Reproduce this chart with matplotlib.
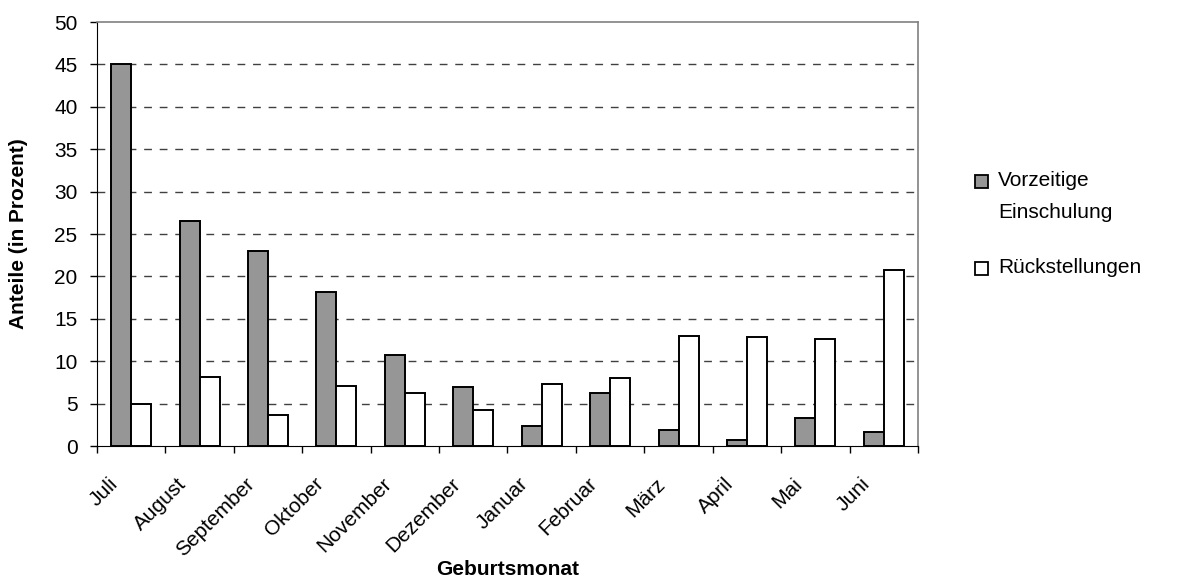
import matplotlib
matplotlib.use("Agg")
import matplotlib.pyplot as plt
import matplotlib.transforms as mtransforms
from matplotlib.patches import Rectangle
import numpy as np

# Data
months = ["Juli", "August", "September", "Oktober", "November", "Dezember",
          "Januar", "Februar", "März", "April", "Mai", "Juni"]
vorzeitig = [45.0, 26.5, 23.0, 18.2, 10.7, 6.9, 2.4, 6.2, 1.9, 0.7, 3.3, 1.7]
rueckstellung = [5.0, 8.1, 3.6, 7.1, 6.2, 4.2, 7.3, 8.0, 13.0, 12.8, 12.6, 20.7]
series_names = ["Vorzeitige\nEinschulung", "Rückstellungen"]
series_colors = ["#969696", "white"]
y_ticks = list(range(0, 55, 5))

plt.rcParams["font.family"] = ["Liberation Sans", "DejaVu Sans"]
FS = 15

W, H = 1181, 585
fig = plt.figure(figsize=(W / 100, H / 100), dpi=100)
ax = fig.add_axes([97 / W, 1 - 446 / H, (918 - 97) / W, (446 - 22) / H])

x = np.arange(len(months))
w = 0.292
ax.bar(x - w / 2, vorzeitig, width=w, color=series_colors[0], edgecolor="black",
       linewidth=1.4, zorder=3)
ax.bar(x + w / 2, rueckstellung, width=w, color=series_colors[1], edgecolor="black",
       linewidth=1.4, zorder=3)

ax.set_xlim(-0.5, len(months) - 0.5)
ax.set_ylim(0, 50)
ax.set_yticks(y_ticks)
ax.tick_params(axis="y", labelsize=FS, length=5, direction="out", width=1, pad=9)

# category labels at centres, tick marks at boundaries
ax.set_xticks(x)
ax.set_xticklabels(months, rotation=45, ha="right", rotation_mode="anchor",
                   fontsize=FS)
ax.tick_params(axis="x", which="major", length=0, pad=3)
shift = mtransforms.ScaledTranslation(-23 / 100, -24 / 100, fig.dpi_scale_trans)
for lab in ax.get_xticklabels():
    lab.set_transform(lab.get_transform() + shift)
ax.set_xticks(np.arange(-0.5, len(months)), minor=True)
ax.tick_params(axis="x", which="minor", length=5, width=1, direction="out")

for v in y_ticks[1:-1]:
    ax.axhline(v, color="#404040", linestyle=(0, (5.6, 5.6)), linewidth=1, zorder=1)

for side in ["top", "right"]:
    ax.spines[side].set_color("#808080")
    ax.spines[side].set_linewidth(1.2)

ax.set_ylabel("Anteile (in Prozent)", fontsize=FS, fontweight="bold")
ax.yaxis.set_label_coords(-0.084, 0.5)
ax.set_xlabel("Geburtsmonat", fontsize=FS, fontweight="bold")
ax.xaxis.set_label_coords(0.5, -0.27)

# legend drawn by hand so the grey square sits beside the first line
legend_rows = [(175, 181), (262, 268)]
for name, color, (sq_top, txt_y) in zip(series_names, series_colors, legend_rows):
    fig.patches.append(Rectangle((975 / W, 1 - (sq_top + 13) / H), 13 / W, 13 / H,
                                 transform=fig.transFigure, facecolor=color,
                                 edgecolor="black", linewidth=1.3))
    for i, line in enumerate(name.split("\n")):
        fig.text(998 / W, 1 - (txt_y + 31 * i) / H, line, fontsize=FS,
                 va="center", ha="left")

fig.savefig("out.png", dpi=100)
